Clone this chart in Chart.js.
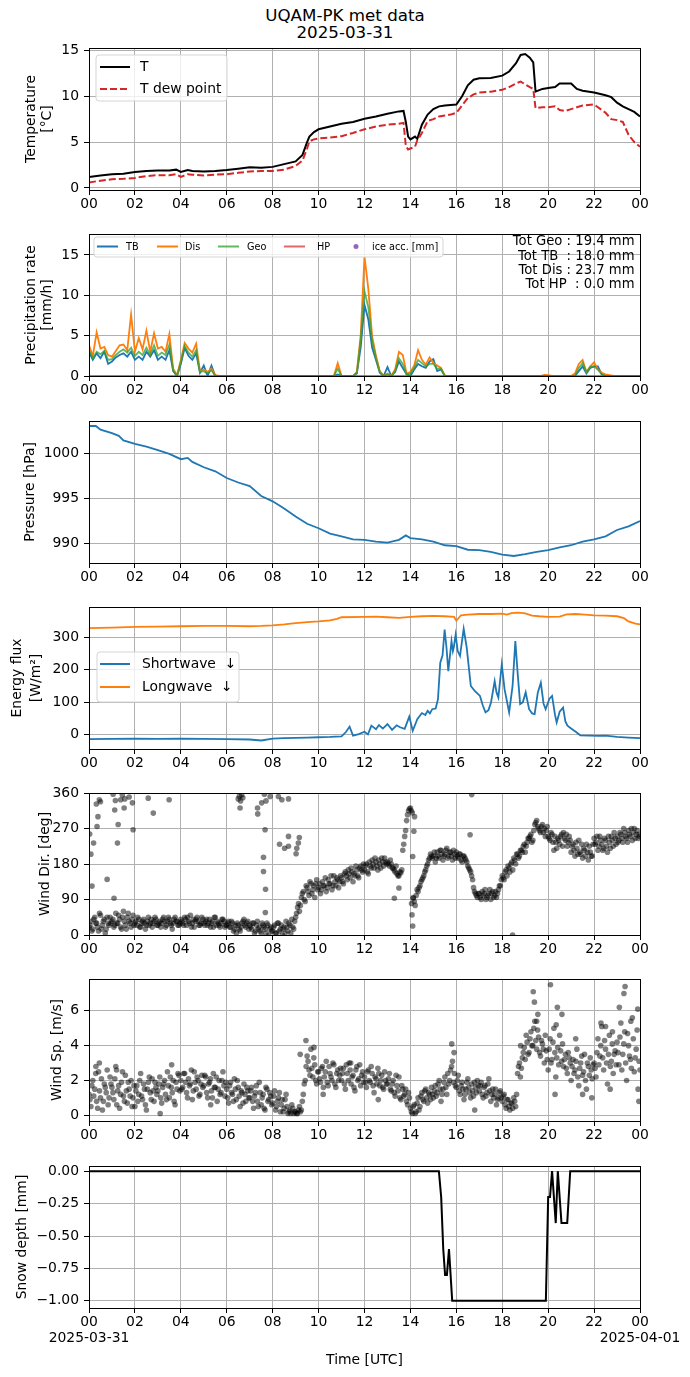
<!DOCTYPE html>
<html>
<head>
<meta charset="utf-8">
<title>UQAM-PK met data 2025-03-31</title>
<script src="https://cdn.jsdelivr.net/npm/chart.js@4.4.1/dist/chart.umd.min.js"></script>
<style>
  body { margin: 0; background: #fff; width: 690px; height: 1377px; position: relative; overflow: hidden; font-family: "DejaVu Sans", sans-serif; }
  #titre { position: absolute; left: 0; top: 7px; width: 690px; text-align: center; font-size: 16.7px; line-height: 17px; color: #000; }
  canvas { position: absolute; left: 0; }
</style>
</head>
<body>
<div id="titre">UQAM-PK met data<br>2025-03-31</div>
<canvas id="tempChart" width="690" height="196" style="top:28px"></canvas>
<canvas id="precipChart" width="690" height="196" style="top:214px"></canvas>
<canvas id="pressChart" width="690" height="196" style="top:401px"></canvas>
<canvas id="fluxChart" width="690" height="196" style="top:587px"></canvas>
<canvas id="dirChart" width="690" height="196" style="top:773px"></canvas>
<canvas id="speedChart" width="690" height="196" style="top:959px"></canvas>
<canvas id="snowChart" width="690" height="232" style="top:1146px"></canvas>

<script>
// ---- Axe du temps (heures UTC) ----
const xTicks = [0, 2, 4, 6, 8, 10, 12, 14, 16, 18, 20, 22, 24];
const xTickLabels = ['00', '02', '04', '06', '08', '10', '12', '14', '16', '18', '20', '22', '00'];
const xTickLabelsBottom = [['00', '2025-03-31'], '02', '04', '06', '08', '10', '12', '14', '16', '18', '20', '22', ['00', '2025-04-01']];

// ---- Température ----
const tempHours = [0, 0.5, 1, 1.5, 2, 2.5, 3, 3.5, 3.8, 4, 4.3, 4.5, 5, 5.5, 6, 6.5, 7, 7.5, 8, 8.5,
  9, 9.3, 9.5, 9.6, 9.8, 10, 10.5, 11, 11.5, 12, 12.5, 13, 13.5, 13.7, 13.8, 13.9, 14, 14.2, 14.3, 14.5,
  14.75, 15, 15.25, 15.5, 15.75, 16, 16.25, 16.5, 16.75, 17, 17.5, 18, 18.3, 18.6, 18.8, 19, 19.2, 19.35, 19.45, 19.75,
  20, 20.3, 20.5, 20.75, 21, 21.25, 21.5, 22, 22.5, 22.75, 23, 23.25, 23.5, 23.75, 24];
const tempT = [1.2, 1.35, 1.5, 1.55, 1.75, 1.85, 1.9, 1.9, 2.0, 1.75, 1.95, 1.85, 1.8, 1.85, 1.95, 2.1, 2.25, 2.2, 2.3, 2.6,
  2.9, 3.6, 5.0, 5.6, 6.1, 6.4, 6.7, 7.0, 7.2, 7.55, 7.8, 8.1, 8.35, 8.4, 7.2, 5.6, 5.3, 5.6, 5.35, 6.9,
  8.0, 8.6, 8.9, 9.0, 9.05, 9.1, 10.0, 11.2, 11.8, 11.95, 12.0, 12.25, 12.7, 13.6, 14.5, 14.6, 14.2, 13.7, 10.5, 10.8,
  10.9, 11.0, 11.4, 11.4, 11.4, 10.8, 10.6, 10.4, 10.1, 9.9, 9.3, 8.9, 8.6, 8.3, 7.8];
const tempTd = [0.6, 0.8, 0.95, 1.0, 1.1, 1.3, 1.4, 1.4, 1.5, 1.2, 1.5, 1.45, 1.35, 1.45, 1.5, 1.65, 1.8, 1.85, 1.85, 2.0,
  2.4, 3.0, 4.3, 5.1, 5.3, 5.4, 5.5, 5.65, 6.0, 6.4, 6.7, 6.9, 7.0, 7.1, 4.6, 4.2, 4.3, 4.5, 5.2, 6.0,
  7.3, 7.5, 7.8, 7.9, 8.0, 8.2, 9.0, 9.8, 10.2, 10.4, 10.5, 10.7, 11.0, 11.4, 11.6, 11.3, 11.0, 10.8, 8.7, 8.8,
  8.8, 8.9, 8.5, 8.4, 8.6, 8.8, 9.0, 9.1, 8.2, 7.5, 7.4, 7.2, 5.8, 5.0, 4.5];

// ---- Précipitations (pas de 10 min, 00:00 -> 24:00) ----
const precipHours = Array.from({length: 145}, (_, i) => i / 6);
const precipTB = [
  3.0, 2.0, 2.8, 2.2, 3.0, 1.5, 1.8, 2.3, 2.6, 2.8, 2.4, 3.0,
  2.0, 2.4, 2.0, 3.0, 2.4, 3.2, 2.0, 2.4, 2.0, 3.2, 0.6, 0.0,
  1.5, 3.5, 2.5, 2.0, 2.8, 0.4, 1.3, 0.0, 1.3, 0.0, 0, 0,
  0, 0, 0, 0, 0, 0, 0, 0, 0, 0, 0, 0,
  0, 0, 0, 0, 0, 0, 0, 0, 0, 0, 0, 0,
  0, 0, 0, 0, 0, 0.2, 0, 0, 0, 0, 0.3, 3.5,
  8.8, 7.0, 3.5, 2.0, 0.4, 0, 1.1, 0, 0.5, 1.8, 1.0, 0.2,
  0.0, 0.8, 1.5, 1.2, 1.0, 1.8, 2.1, 0.6, 0.8, 0, 0, 0,
  0, 0, 0, 0, 0, 0, 0, 0, 0, 0, 0, 0,
  0, 0, 0, 0, 0, 0, 0, 0, 0, 0, 0, 0,
  0, 0, 0, 0, 0, 0, 0, 0, 0.6, 1.2, 0.3, 1.0,
  1.2, 1.2, 0.2, 0, 0, 0, 0, 0, 0, 0, 0, 0,
  0];
const precipDis = [
  3.8, 2.5, 5.4, 3.4, 3.6, 2.6, 2.4, 3.1, 3.8, 3.9, 3.2, 7.6,
  3.0, 4.7, 3.3, 5.6, 3.0, 5.3, 3.4, 3.6, 3.0, 5.2, 0.9, 0.1,
  2.0, 4.1, 3.4, 2.9, 4.0, 0.6, 0.8, 0.5, 0.9, 0.1, 0, 0,
  0, 0, 0, 0, 0, 0, 0, 0, 0, 0, 0, 0,
  0, 0, 0, 0, 0, 0, 0, 0, 0, 0, 0, 0,
  0, 0, 0, 0, 0, 1.6, 0, 0, 0, 0, 0.5, 5.0,
  14.8, 10.8, 4.9, 2.5, 0.6, 0, 0.3, 0, 0.8, 3.0, 2.6, 0.3,
  0.5, 1.3, 3.2, 2.0, 1.4, 2.3, 1.6, 1.3, 1.0, 0, 0, 0,
  0, 0, 0, 0, 0, 0, 0, 0, 0, 0, 0, 0,
  0, 0, 0, 0, 0, 0, 0, 0, 0, 0, 0, 0.15,
  0.1, 0, 0, 0, 0, 0, 0, 0.3, 1.5, 2.0, 0.5, 1.2,
  1.7, 0.8, 0.4, 0.2, 0.1, 0, 0, 0, 0, 0, 0, 0,
  0];
const precipGeo = [
  3.2, 2.2, 3.0, 2.7, 3.1, 2.0, 2.1, 2.6, 3.0, 3.3, 2.9, 3.5,
  2.5, 3.0, 2.6, 3.5, 2.6, 3.8, 2.5, 2.9, 2.6, 3.9, 0.7, 0.0,
  1.7, 3.7, 2.9, 2.4, 3.2, 0.5, 0.6, 0.3, 0.7, 0.0, 0, 0,
  0, 0, 0, 0, 0, 0, 0, 0, 0, 0, 0, 0,
  0, 0, 0, 0, 0, 0, 0, 0, 0, 0, 0, 0,
  0, 0, 0, 0, 0, 0.9, 0, 0, 0, 0, 0.4, 4.5,
  10.5, 8.5, 4.3, 2.2, 0.5, 0, 0.2, 0, 0.6, 2.2, 1.5, 0.2,
  0.3, 1.0, 2.0, 1.6, 1.2, 1.5, 1.5, 0.9, 0.9, 0, 0, 0,
  0, 0, 0, 0, 0, 0, 0, 0, 0, 0, 0, 0,
  0, 0, 0, 0, 0, 0, 0, 0, 0, 0, 0, 0,
  0, 0, 0, 0, 0, 0, 0, 0, 1.0, 1.6, 0.5, 1.1,
  1.2, 0.8, 0.2, 0, 0, 0, 0, 0, 0, 0, 0, 0,
  0];
const hpHours = [0, 24];
const precipHP = [0, 0];
const precipTotals = ['Tot Geo : 19.4 mm', 'Tot TB  : 18.0 mm', 'Tot Dis : 23.7 mm', 'Tot HP  : 0.0 mm'];

// ---- Pression ----
const pressHours = [0, 0.3, 0.5, 1, 1.3, 1.5, 2, 2.5, 3, 3.5, 4, 4.3, 4.5, 5, 5.5, 6, 6.5, 7, 7.5, 8,
  8.5, 9, 9.5, 10, 10.5, 11, 11.5, 12, 12.5, 13, 13.5, 13.8, 14, 14.5, 15, 15.5, 16, 16.5, 17, 17.5,
  18, 18.5, 19, 19.5, 20, 20.5, 21, 21.5, 22, 22.5, 23, 23.5, 24];
const pressure = [1003.1, 1003.1, 1002.7, 1002.3, 1002.0, 1001.5, 1001.1, 1000.8, 1000.4, 1000.0, 999.4, 999.55, 999.1, 998.5, 998.05, 997.3, 996.8, 996.4, 995.3, 994.7,
  993.9, 993.0, 992.2, 991.7, 991.1, 990.8, 990.45, 990.4, 990.2, 990.1, 990.4, 990.9, 990.6, 990.45, 990.2, 989.8, 989.7, 989.3, 989.25, 989.05,
  988.75, 988.6, 988.8, 989.05, 989.25, 989.55, 989.8, 990.2, 990.45, 990.8, 991.5, 991.9, 992.5];

// ---- Rayonnement ----
const swHours = [0, 1, 2, 3, 4, 5, 6, 7, 7.5, 8, 8.5, 9, 9.5, 10, 10.5, 11, 11.2, 11.35, 11.5, 11.75,
  12, 12.15, 12.3, 12.5, 12.63, 12.8, 13, 13.2, 13.4, 13.55, 13.75, 13.95, 14.1, 14.3, 14.5, 14.65, 14.75, 14.85, 14.95, 15.1,
  15.2, 15.3, 15.4, 15.49, 15.57, 15.65, 15.79, 15.85, 15.89, 15.97, 16.06, 16.16, 16.32, 16.45, 16.63, 16.8, 17.03, 17.15, 17.27, 17.4,
  17.51, 17.67, 17.75, 17.83, 17.98, 18.1, 18.3, 18.45, 18.57, 18.67, 18.78, 18.9, 19.02, 19.17, 19.3, 19.41, 19.55, 19.68, 19.8, 19.89,
  20.05, 20.17, 20.3, 20.37, 20.5, 20.65, 20.75, 20.84, 21.0, 21.2, 21.4, 21.8, 22.2, 22.5, 23, 23.5, 24];
const shortwave = [-15, -14, -13, -14, -13, -14, -15, -16, -19, -13, -12, -11, -10, -9, -8, -6, 8, 24, -4, 1,
  8, 0, 27, 16, 29, 18, 32, 14, 28, 22, 17, 55, 11, 47, 66, 60, 73, 65, 78, 80,
  109, 222, 245, 325, 270, 196, 289, 258, 270, 309, 258, 243, 327, 270, 150, 135, 119, 90, 68, 75,
  99, 165, 130, 114, 217, 140, 68, 150, 289, 190, 94, 100, 130, 78, 65, 63, 130, 160, 95, 78,
  110, 119, 60, 37, 70, 83, 40, 27, 18, 8, -3, -4, -5, -4, -8, -10, -12];
const lwHours = [0, 1, 2, 3, 4, 5, 6, 7, 7.5, 8, 8.5, 9, 9.5, 10, 10.5, 10.8, 11, 12, 12.5, 13,
  13.5, 14, 14.5, 15, 15.5, 15.9, 16.0, 16.2, 16.5, 17, 17.5, 18, 18.2, 18.4, 18.7, 19, 19.3, 19.6, 20, 20.5,
  20.8, 21.2, 21.6, 22, 22.5, 23, 23.3, 23.5, 23.8, 24];
const longwave = [329, 331, 333, 334, 335, 336, 336, 335, 336, 338, 341, 345, 348, 350, 353, 358, 363, 364, 365, 363,
  361, 364, 366, 367, 366, 364, 352, 369, 371, 373, 373, 374, 371, 376, 377, 375, 368, 366, 364, 365,
  372, 373, 371, 369, 368, 366, 360, 350, 343, 341];

// ---- Vent : direction (pas de 5 min, deux séries décalées de 2.5 min) + points isolés ----
const windHours = Array.from({length: 289}, (_, i) => i / 12);
const windHours2 = Array.from({length: 288}, (_, i) => i / 12 + 1 / 24);
const windDir = [
  20, 35, 15, 45, 30, 10, 50, 25, 40, 15, 30, 45,
  35, 20, 55, 30, 40, 15, 60, 25, 45, 35, 20, 50,
  30, 25, 40, 20, 35, 30, 25, 45, 30, 20, 35, 40,
  25, 35, 30, 45, 20, 35, 40, 25, 30, 45, 35, 25,
  40, 30, 45, 25, 35, 50, 30, 20, 40, 35, 25, 45,
  30, 35, 25, 40, 30, 20, 45, 35, 25, 30, 40, 20,
  25, 35, 20, 30, 15, 5, 25, 10, 30, 40, 20, 35,
  25, 15, 30, 10, 35, 20, 5, 25, 15, 30, 0, 20,
  10, 25, 5, 30, 15, 0, 20, 35, 10, 25, 40, 15,
  45, 70, 60, 95, 110, 85, 120, 100, 130, 115, 95, 140,
  120, 105, 135, 125, 110, 140, 130, 115, 150, 125, 140, 135,
  145, 130, 160, 140, 155, 170, 135, 150, 165, 145, 175, 160,
  165, 180, 155, 175, 190, 170, 185, 165, 180, 195, 175, 185,
  185, 175, 180, 170, 160, 155, 150, 158, 215, 250, 290, 315,
  322, 310, 85, 100, 110, 125, 140, 150, 165, 180, 195, 200,
  200, 185, 210, 195, 215, 190, 205, 220, 200, 210, 190, 205,
  210, 195, 205, 185, 200, 190, 175, 165, 150, 120, 105, 95,
  105, 90, 100, 115, 95, 105, 90, 110, 100, 95, 115, 125,
  150, 140, 165, 175, 160, 185, 195, 180, 205, 200, 215, 225,
  210, 235, 245, 255, 240, 280, 290, 270, 260, 280, 270, 265,
  250, 240, 255, 215, 235, 245, 230, 255, 260, 240, 225, 250,
  210, 230, 200, 220, 240, 205, 195, 215, 230, 190, 210, 200,
  245, 235, 215, 250, 230, 220, 240, 210, 235, 250, 225, 245,
  250, 240, 255, 235, 260, 245, 265, 250, 240, 270, 255, 245,
  250];
const windDir2 = [
  25, 10, 40, 30, 20, 55, 15, 35, 5, 45, 25, 30,
  40, 25, 30, 50, 20, 45, 35, 15, 55, 30, 40, 25,
  35, 45, 20, 30, 40, 15, 35, 25, 40, 30, 45, 25,
  30, 20, 40, 35, 25, 45, 30, 15, 40, 35, 25, 30,
  35, 25, 40, 45, 30, 20, 40, 35, 45, 25, 30, 40,
  25, 40, 30, 20, 35, 45, 25, 30, 20, 40, 35, 25,
  30, 20, 35, 10, 25, 30, 15, 20, 35, 25, 30, 15,
  20, 30, 5, 25, 15, 10, 30, 20, 5, 25, 15, 10,
  20, 5, 30, 10, 25, 15, 5, 20, 30, 5, 20, 35,
  55, 80, 75, 105, 90, 125, 110, 135, 105, 125, 130, 115,
  130, 115, 125, 145, 120, 130, 150, 125, 135, 145, 120, 150,
  135, 155, 150, 165, 145, 160, 155, 175, 150, 170, 165, 180,
  175, 160, 185, 170, 180, 195, 175, 190, 170, 185, 195, 180,
  180, 190, 170, 165, 175, 150, 160, 165, 230, 265, 305, 320,
  315, 95, 75, 115, 120, 135, 145, 160, 175, 190, 205, 195,
  210, 195, 200, 215, 205, 200, 215, 195, 210, 200, 215, 195,
  200, 205, 190, 200, 195, 185, 170, 160, 140, 110, 100, 105,
  95, 110, 105, 90, 100, 115, 105, 95, 110, 105, 125, 140,
  145, 160, 150, 170, 180, 165, 190, 205, 195, 215, 210, 230,
  225, 245, 250, 235, 265, 285, 275, 265, 275, 260, 250, 275,
  245, 260, 235, 250, 220, 240, 250, 225, 245, 255, 235, 240,
  225, 215, 235, 205, 210, 230, 220, 200, 210, 225, 200, 230,
  230, 250, 225, 240, 215, 245, 225, 250, 220, 240, 260, 230,
  235, 260, 245, 270, 250, 235, 255, 270, 260, 245, 265, 255];
const dirOutHours = [0.03, 0.08, 0.13, 0.2, 0.32, 0.35, 0.39, 0.45, 0.5, 0.79, 1.05, 1.09, 1.12, 1.15, 1.24, 1.27, 1.38, 1.45, 1.53, 1.56,
  1.75, 1.89, 1.92, 2.58, 2.8, 3.49, 6.5, 6.55, 6.6, 6.58, 6.65, 6.7, 7.34, 7.35, 7.52, 7.6, 7.6, 7.64, 7.67, 7.68,
  7.69, 7.71, 7.89, 8.25, 8.3, 8.4, 8.52, 8.69, 8.69, 8.69, 9.02, 9.05, 9.12, 9.16, 13.3, 13.5, 14.05, 14.07, 14.1, 14.1,
  14.12, 14.15, 14.18, 16.6, 16.67, 18.45];
const dirOutDeg = [256, 205, 124, 233, 332, 275, 300, 343, 338, 141, 357, 93, 317, 341, 233, 280, 343, 355, 322, 345,
  350, 335, 267, 347, 309, 343, 345, 352, 340, 322, 355, 348, 322, 307, 335, 197, 161, 357, 267, 57,
  116, 340, 351, 351, 230, 343, 220, 225, 250, 345, 206, 220, 233, 247, 93, 119, 80, 51, 23, 199,
  93, 263, 300, 254, 356, 0];

// ---- Vent : vitesse (pas de 5 min, deux séries décalées) + points isolés ----
const windSpeed = [
  1.2, 0.5, 2.0, 1.5, 0.8, 2.5, 1.0, 0.3, 1.8, 1.3, 0.6, 2.2,
  1.6, 0.9, 2.8, 1.4, 0.4, 1.9, 1.1, 2.3, 0.7, 1.5, 2.0, 1.0,
  0.5, 1.7, 1.2, 2.4, 0.9, 1.5, 0.3, 1.9, 1.3, 2.1, 0.8, 1.6,
  1.4, 2.2, 0.7, 1.8, 1.2, 2.5, 1.0, 1.6, 2.0, 0.6, 1.5, 2.3,
  2.0, 1.6, 2.4, 1.3, 2.1, 1.8, 0.9, 2.5, 1.5, 2.0, 1.2, 2.3,
  1.7, 2.2, 1.0, 1.9, 1.4, 2.4, 1.6, 0.8, 2.0, 1.3, 2.5, 1.1,
  1.5, 0.7, 1.9, 1.2, 2.1, 0.9, 1.6, 0.5, 1.3, 1.8, 0.8, 1.4,
  1.0, 1.6, 0.4, 1.3, 0.8, 1.9, 0.6, 1.2, 0.3, 1.5, 0.9, 1.1,
  0.7, 1.4, 0.5, 1.0, 0.2, 0.9, 0.4, 1.2, 0.1, 0.3, 0.6, 0.1,
  0.2, 0.1, 0.5, 0.3, 1.2, 2.0, 3.4, 2.6, 3.8, 2.2, 2.9, 1.8,
  2.5, 1.9, 2.8, 2.2, 3.1, 1.7, 2.4, 2.0, 2.9, 1.6, 2.6, 2.3,
  2.0, 2.7, 1.5, 2.4, 3.0, 1.8, 2.3, 1.4, 2.8, 2.1, 1.7, 2.5,
  2.2, 1.6, 2.6, 1.9, 2.4, 1.3, 2.1, 2.7, 1.7, 2.3, 1.5, 2.0,
  1.8, 2.4, 1.4, 2.0, 1.1, 1.7, 2.2, 0.9, 1.5, 1.2, 0.8, 1.3,
  0.4, 0.1, 0.6, 0.2, 1.0, 0.5, 1.3, 0.8, 1.5, 0.7, 1.2, 1.6,
  1.0, 1.7, 1.3, 2.0, 0.8, 1.5, 2.2, 1.2, 1.8, 2.6, 3.1, 2.4,
  1.6, 2.3, 1.2, 1.9, 0.9, 1.5, 2.1, 1.3, 1.8, 1.1, 1.6, 2.0,
  1.4, 1.9, 1.0, 1.7, 1.3, 2.1, 0.8, 1.5, 1.2, 0.6, 1.0, 1.4,
  0.8, 1.2, 0.4, 0.9, 0.3, 0.7, 1.0, 0.5, 2.4, 3.0, 2.7, 3.6,
  3.2, 4.2, 3.6, 4.8, 4.0, 5.4, 3.8, 4.5, 3.4, 4.1, 3.0, 3.7,
  2.6, 4.4, 3.2, 5.0, 2.2, 3.9, 4.6, 3.1, 2.8, 3.5, 2.4, 3.3,
  2.0, 3.2, 2.6, 3.8, 1.7, 3.0, 2.3, 3.5, 1.5, 2.8, 3.3, 2.1,
  3.0, 2.2, 4.4, 3.4, 5.1, 2.6, 3.8, 1.8, 4.6, 3.1, 2.4, 3.7,
  4.2, 2.9, 5.3, 3.5, 4.8, 2.0, 4.0, 3.2, 5.6, 2.5, 3.8, 1.5,
  2.6];
const windSpeed2 = [
  0.9, 1.7, 1.1, 2.4, 0.4, 1.4, 2.1, 0.8, 1.6, 2.6, 1.0, 1.8,
  1.3, 2.1, 0.6, 1.7, 1.2, 2.5, 0.8, 1.4, 1.9, 1.1, 0.5, 1.7,
  1.4, 0.8, 2.0, 1.1, 1.8, 0.6, 1.5, 2.2, 0.9, 1.4, 1.9, 1.2,
  1.8, 1.0, 1.6, 2.0, 0.9, 1.7, 2.2, 1.3, 0.8, 1.9, 2.4, 1.4,
  1.5, 2.4, 1.9, 1.0, 1.7, 2.6, 1.4, 1.9, 2.2, 1.1, 1.8, 1.6,
  2.3, 1.3, 1.8, 2.1, 1.0, 1.6, 2.2, 1.5, 1.2, 2.0, 1.7, 1.9,
  1.0, 1.7, 1.3, 0.8, 1.5, 2.0, 1.1, 1.4, 0.7, 1.2, 1.6, 1.0,
  1.4, 0.8, 1.1, 1.7, 0.5, 1.3, 1.0, 0.4, 1.6, 0.8, 1.3, 0.6,
  1.1, 0.3, 0.8, 1.3, 0.6, 0.2, 0.9, 0.5, 0.2, 0.1, 0.4, 0.2,
  0.1, 0.3, 0.2, 0.8, 1.8, 2.8, 3.1, 2.3, 2.7, 3.3, 2.0, 2.5,
  2.1, 2.7, 1.6, 2.5, 1.9, 2.8, 2.2, 3.0, 1.8, 2.4, 2.0, 2.7,
  2.4, 1.8, 2.9, 2.0, 2.6, 2.2, 1.6, 2.6, 2.0, 2.9, 2.3, 1.9,
  1.9, 2.5, 2.0, 2.8, 1.7, 2.2, 1.8, 2.4, 2.0, 1.6, 2.5, 1.8,
  2.1, 1.5, 1.8, 1.3, 2.3, 1.4, 1.0, 1.7, 1.1, 1.5, 0.6, 1.0,
  0.2, 0.5, 0.1, 0.7, 0.3, 1.1, 0.9, 1.4, 1.0, 1.3, 0.9, 1.2,
  1.4, 1.1, 1.8, 1.5, 1.2, 1.9, 1.6, 2.4, 2.0, 2.8, 1.9, 1.7,
  2.0, 1.4, 1.7, 1.5, 1.2, 1.9, 1.6, 1.0, 1.4, 1.9, 1.3, 1.7,
  1.7, 1.2, 1.6, 1.1, 1.8, 1.4, 1.2, 1.0, 1.5, 0.9, 1.3, 1.0,
  1.1, 0.6, 0.9, 0.5, 0.7, 0.4, 0.8, 1.2, 2.8, 2.2, 3.3, 3.9,
  4.6, 3.5, 4.4, 4.0, 5.0, 4.3, 4.9, 3.6, 4.3, 3.8, 4.6, 3.2,
  3.8, 3.0, 4.2, 3.6, 3.3, 2.9, 3.7, 4.1, 3.2, 2.7, 3.6, 3.0,
  2.8, 2.4, 3.1, 2.2, 2.7, 3.4, 2.5, 2.0, 3.0, 2.3, 2.6, 2.9,
  2.7, 3.6, 2.9, 4.0, 3.3, 4.3, 3.0, 3.5, 2.8, 4.1, 3.5, 2.9,
  3.6, 4.5, 2.6, 4.1, 3.0, 4.7, 3.4, 2.7, 4.4, 3.3, 4.9, 3.1];
const speedOutHours = [0.3, 0.45, 1.2, 3.1, 3.6, 5.3, 9.2, 9.45, 9.8, 10.2, 11.4, 12.6, 15.8, 15.9, 16.8, 18.8, 19.35, 19.4, 19.5, 19.55,
  20.1, 20.3, 20.35, 20.4, 20.6, 21.2, 21.5, 21.9, 22.3, 22.5, 22.7, 22.8, 23.1, 23.3, 23.35, 23.6, 23.9, 23.95];
const speedOut = [2.8, 3.0, 2.6, 0.1, 2.9, 0.6, 3.5, 4.3, 3.9, 1.2, 3.0, 0.9, 4.1, 3.6, 0.3, 4.0, 7.1, 6.5, 5.4, 5.8,
  7.5, 1.2, 5.2, 6.2, 5.8, 4.4, 1.2, 1.0, 5.3, 5.1, 1.5, 4.8, 6.2, 7.0, 7.4, 5.4, 6.1, 0.8];

// ---- Hauteur de neige ----
const snowHours = [0, 15.24, 15.34, 15.43, 15.51, 15.59, 15.68, 15.82, 19.9, 20.0, 20.08, 20.17, 20.33, 20.42, 20.58, 20.83, 20.96, 24];
const snowDepth = [0, 0, -0.2, -0.6, -0.8, -0.8, -0.6, -1, -1, -0.2, -0.2, 0, -0.4, 0, -0.4, -0.4, 0, 0];

// ---------------------------------------------------------------
Chart.defaults.font.family = '"DejaVu Sans", sans-serif';
Chart.defaults.color = '#000';

const FONT = '"DejaVu Sans", sans-serif';
const FS = 13.9;
const GRID = '#b0b0b0';

function pts(xs, ys) {
  return xs.map((x, i) => ({x: x, y: ys[i]}));
}

function xAxis(labels, height) {
  return {
    type: 'linear', min: 0, max: 24,
    afterBuildTicks: s => { s.ticks = xTicks.map(v => ({value: v})); },
    afterFit: s => { s.height = height; },
    ticks: { autoSkip: false, maxRotation: 0, padding: 2, font: {size: FS, lineHeight: 1.12}, color: '#000',
      callback: (v, i) => labels[i] },
    grid: { color: GRID, lineWidth: 1, tickColor: '#000', tickLength: 5 },
    border: { color: '#000', width: 1 }
  };
}

function yAxis(min, max, ticks, fmt) {
  return {
    type: 'linear', min: min, max: max,
    afterBuildTicks: s => { s.ticks = ticks.map(v => ({value: v})); },
    afterFit: s => { s.width = 89; },
    ticks: { padding: 5, font: {size: FS}, color: '#000', callback: fmt || (v => String(v)) },
    grid: { color: GRID, lineWidth: 1, tickColor: '#000', tickLength: 5 },
    border: { color: '#000', width: 1 }
  };
}

// cadre, titres d'axe, légendes façon matplotlib
function decor(cfg) {
  return {
    id: 'decor',
    afterDraw(chart) {
      const ctx = chart.ctx, a = chart.chartArea;
      ctx.save();
      ctx.strokeStyle = '#000';
      ctx.lineWidth = 1;
      ctx.setLineDash([]);
      ctx.strokeRect(Math.round(a.left) + 0.5, Math.round(a.top) + 0.5,
        Math.round(a.right - a.left), Math.round(a.bottom - a.top));

      ctx.fillStyle = '#000';
      ctx.font = FS + 'px ' + FONT;
      ctx.textAlign = 'center';
      ctx.textBaseline = 'middle';
      const yc = (a.top + a.bottom) / 2;
      (cfg.ylabel || []).forEach(l => {
        ctx.save();
        ctx.translate(l.x, yc);
        ctx.rotate(-Math.PI / 2);
        ctx.fillText(l.text, 0, 0);
        ctx.restore();
      });
      if (cfg.xlabel) {
        ctx.fillText(cfg.xlabel, (a.left + a.right) / 2, a.bottom + 52);
      }

      if (cfg.legend) {
        const L = cfg.legend;
        const bx = a.left + L.x, by = a.top + L.y, r = 3;
        ctx.beginPath();
        ctx.moveTo(bx + r, by);
        ctx.lineTo(bx + L.w - r, by);
        ctx.quadraticCurveTo(bx + L.w, by, bx + L.w, by + r);
        ctx.lineTo(bx + L.w, by + L.h - r);
        ctx.quadraticCurveTo(bx + L.w, by + L.h, bx + L.w - r, by + L.h);
        ctx.lineTo(bx + r, by + L.h);
        ctx.quadraticCurveTo(bx, by + L.h, bx, by + L.h - r);
        ctx.lineTo(bx, by + r);
        ctx.quadraticCurveTo(bx, by, bx + r, by);
        ctx.closePath();
        ctx.fillStyle = 'rgba(255,255,255,0.8)';
        ctx.fill();
        ctx.strokeStyle = '#d5d5d5';
        ctx.lineWidth = 1;
        ctx.stroke();

        ctx.font = L.size + 'px ' + FONT;
        ctx.textAlign = 'left';
        ctx.textBaseline = 'middle';
        L.items.forEach(it => {
          const yy = a.top + it.y;
          if (it.dot) {
            ctx.fillStyle = it.color;
            ctx.beginPath();
            ctx.arc(a.left + it.x1, yy, 2.5, 0, Math.PI * 2);
            ctx.fill();
          } else {
            ctx.strokeStyle = it.color;
            ctx.lineWidth = it.w || 2;
            ctx.setLineDash(it.dash || []);
            ctx.beginPath();
            ctx.moveTo(a.left + it.x1, yy);
            ctx.lineTo(a.left + it.x2, yy);
            ctx.stroke();
            ctx.setLineDash([]);
          }
          ctx.fillStyle = '#000';
          ctx.fillText(it.label, a.left + it.tx, yy + 0.5);
        });
      }

      if (cfg.note) {
        ctx.font = '13.2px ' + FONT;
        ctx.textAlign = 'right';
        ctx.textBaseline = 'middle';
        ctx.fillStyle = '#000';
        cfg.note.forEach((t, i) => ctx.fillText(t, a.left + 545.5, a.top + 8 + i * 14.2));
      }
      ctx.restore();
    }
  };
}

function baseOptions(scales) {
  return {
    responsive: false,
    animation: false,
    events: [],
    layout: { padding: {top: 20, right: 50, left: 0, bottom: 0} },
    plugins: { legend: {display: false}, tooltip: {enabled: false} },
    scales: scales
  };
}

function lineDs(xs, ys, color, width, dash) {
  return { data: pts(xs, ys), borderColor: color, borderWidth: width, borderDash: dash || [],
    pointRadius: 0, tension: 0, fill: false };
}

function dotDs(xs, ys) {
  return { type: 'scatter', data: pts(xs, ys), showLine: false, pointRadius: 2.8,
    pointBackgroundColor: 'rgba(0,0,0,0.5)', pointBorderWidth: 0, clip: 0 };
}

// 1) Température
new Chart(document.getElementById('tempChart'), {
  type: 'line',
  data: { datasets: [
    lineDs(tempHours, tempTd, '#d62728', 2, [7, 3]),
    lineDs(tempHours, tempT, '#000000', 2)
  ] },
  options: baseOptions({ x: xAxis(xTickLabels, 34), y: yAxis(-0.22, 15.26, [0, 5, 10, 15]) }),
  plugins: [decor({
    ylabel: [{text: 'Temperature', x: 31}, {text: '[°C]', x: 47}],
    legend: { x: 7, y: 7, w: 131, h: 46, size: FS, items: [
      {label: 'T', color: '#000', x1: 11, x2: 41, y: 19, tx: 51},
      {label: 'T dew point', color: '#d62728', dash: [7, 3], x1: 11, x2: 41, y: 41, tx: 51}
    ] }
  })]
});

// 2) Précipitations
new Chart(document.getElementById('precipChart'), {
  type: 'line',
  data: { datasets: [
    lineDs(hpHours, precipHP, 'rgba(214,39,40,0.7)', 1.8),
    lineDs(precipHours, precipGeo, 'rgba(44,160,44,0.75)', 1.8),
    lineDs(precipHours, precipDis, '#ff7f0e', 1.8),
    lineDs(precipHours, precipTB, '#1f77b4', 1.8)
  ] },
  options: baseOptions({ x: xAxis(xTickLabels, 34), y: yAxis(0, 17.6, [0, 5, 10, 15]) }),
  plugins: [decor({
    ylabel: [{text: 'Precipitation rate', x: 31}, {text: '[mm/h]', x: 47}],
    legend: { x: 5, y: 3, w: 349, h: 20, size: 9.7, items: [
      {label: 'TB', color: '#1f77b4', x1: 8, x2: 29, y: 12.5, tx: 37},
      {label: 'Dis', color: '#ff7f0e', x1: 68, x2: 89, y: 12.5, tx: 96},
      {label: 'Geo', color: 'rgba(44,160,44,0.75)', x1: 129, x2: 150, y: 12.5, tx: 158},
      {label: 'HP', color: 'rgba(214,39,40,0.7)', x1: 195, x2: 216, y: 12.5, tx: 228},
      {label: 'ice acc. [mm]', color: '#9467bd', dot: true, x1: 267, y: 12.5, tx: 283}
    ] },
    note: precipTotals
  })]
});

// 3) Pression
new Chart(document.getElementById('pressChart'), {
  type: 'line',
  data: { datasets: [ lineDs(pressHours, pressure, '#1f77b4', 1.8) ] },
  options: baseOptions({ x: xAxis(xTickLabels, 34), y: yAxis(987.82, 1003.66, [990, 995, 1000]) }),
  plugins: [decor({ ylabel: [{text: 'Pressure [hPa]', x: 30}] })]
});

// 4) Flux d'énergie
new Chart(document.getElementById('fluxChart'), {
  type: 'line',
  data: { datasets: [
    lineDs(lwHours, longwave, '#ff7f0e', 1.8),
    lineDs(swHours, shortwave, '#1f77b4', 1.8)
  ] },
  options: baseOptions({ x: xAxis(xTickLabels, 34), y: yAxis(-45.4, 394.7, [0, 100, 200, 300]) }),
  plugins: [decor({
    ylabel: [{text: 'Energy flux', x: 17}, {text: '[W/m²]', x: 36}],
    legend: { x: 8, y: 45, w: 142, h: 50, size: FS, items: [
      {label: 'Shortwave  ↓', color: '#1f77b4', x1: 11, x2: 41, y: 57, tx: 53},
      {label: 'Longwave  ↓', color: '#ff7f0e', x1: 11, x2: 41, y: 80, tx: 53}
    ] }
  })]
});

// 5) Direction du vent
new Chart(document.getElementById('dirChart'), {
  type: 'scatter',
  data: { datasets: [ dotDs(windHours, windDir), dotDs(windHours2, windDir2), dotDs(dirOutHours, dirOutDeg) ] },
  options: baseOptions({ x: xAxis(xTickLabels, 34), y: yAxis(0, 360, [0, 90, 180, 270, 360]) }),
  plugins: [decor({ ylabel: [{text: 'Wind Dir. [deg]', x: 45}] })]
});

// 6) Vitesse du vent
new Chart(document.getElementById('speedChart'), {
  type: 'scatter',
  data: { datasets: [ dotDs(windHours, windSpeed), dotDs(windHours2, windSpeed2), dotDs(speedOutHours, speedOut) ] },
  options: baseOptions({ x: xAxis(xTickLabels, 34), y: yAxis(-0.33, 7.83, [0, 2, 4, 6]) }),
  plugins: [decor({ ylabel: [{text: 'Wind Sp. [m/s]', x: 57}] })]
});

// 7) Hauteur de neige
new Chart(document.getElementById('snowChart'), {
  type: 'line',
  data: { datasets: [ lineDs(snowHours, snowDepth, '#000000', 2) ] },
  options: baseOptions({
    x: xAxis(xTickLabelsBottom, 70),
    y: yAxis(-1.055, 0.04, [-1, -0.75, -0.5, -0.25, 0], v => v.toFixed(2).replace('-', '\u2212'))
  }),
  plugins: [decor({ ylabel: [{text: 'Snow depth [mm]', x: 22}], xlabel: 'Time [UTC]' })]
});
</script>
</body>
</html>
